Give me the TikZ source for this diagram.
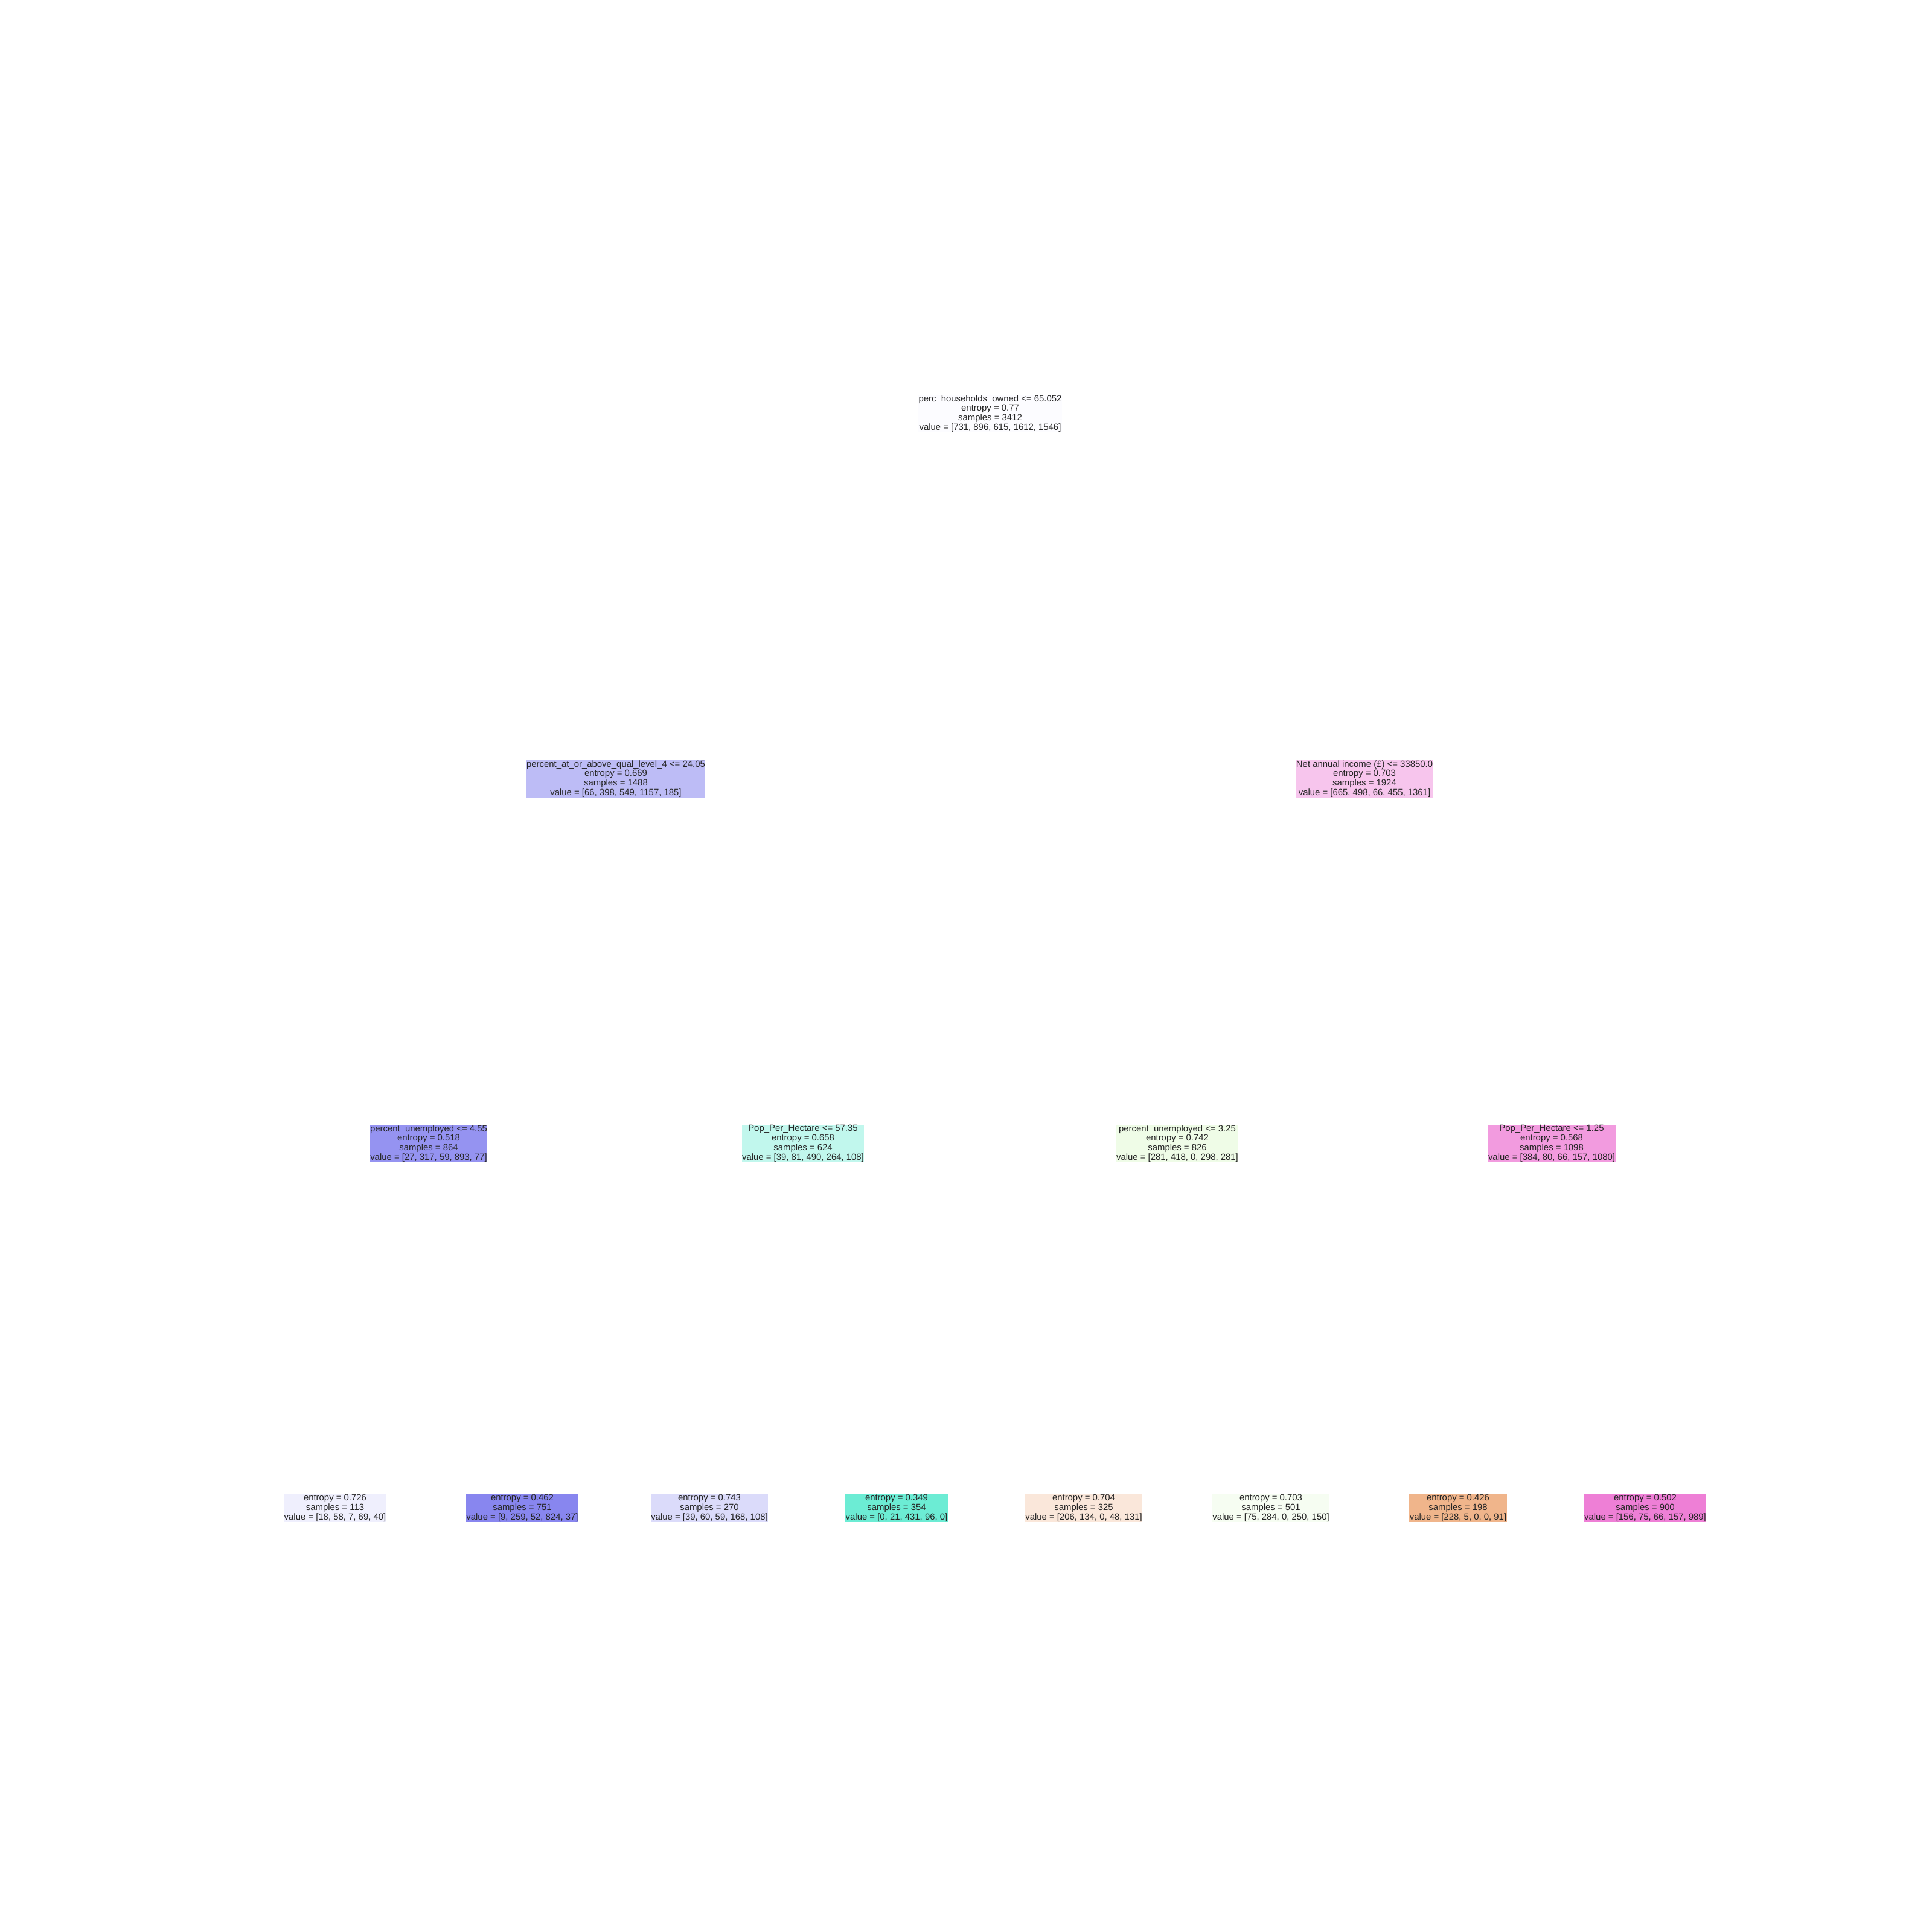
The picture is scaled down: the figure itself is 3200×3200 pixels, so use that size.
\documentclass[tikz,border=0pt]{standalone}
\usepackage{fontspec}
\setmainfont{Liberation Sans}
\definecolor{txt}{RGB}{38,38,38}
\definecolor{cR}{RGB}{252,252,255}
\definecolor{cA}{RGB}{189,188,246}
\definecolor{cB}{RGB}{247,197,237}
\definecolor{cAA}{RGB}{149,147,241}
\definecolor{cAB}{RGB}{193,247,237}
\definecolor{cBA}{RGB}{239,252,231}
\definecolor{cBB}{RGB}{242,155,223}
\definecolor{cL1}{RGB}{239,239,253}
\definecolor{cL2}{RGB}{136,134,239}
\definecolor{cL3}{RGB}{219,219,250}
\definecolor{cL4}{RGB}{108,236,212}
\definecolor{cL5}{RGB}{250,231,218}
\definecolor{cL6}{RGB}{246,253,242}
\definecolor{cL7}{RGB}{240,181,139}
\definecolor{cL8}{RGB}{238,127,214}
\tikzset{
  treenode/.style={align=center, text=txt, inner xsep=0.5pt, inner ysep=0.7pt,
    font=\fontsize{14.9}{15.8}\selectfont}
}
\begin{document}
\begin{tikzpicture}[x=1pt,y=-1pt]
\fill[white] (0,0) rectangle (3200,3200);
\useasboundingbox (0,0) rectangle (3200,3200);
\node[treenode, fill=cR] (root) at (1640,685) {perc\_households\_owned <= 65.052\\entropy = 0.77\\samples = 3412\\value = [731, 896, 615, 1612, 1546]};
\node[treenode, fill=cA] (nA) at (1020,1290) {percent\_at\_or\_above\_qual\_level\_4 <= 24.05\\entropy = 0.669\\samples = 1488\\value = [66, 398, 549, 1157, 185]};
\node[treenode, fill=cB] (nB) at (2260,1290) {Net annual income (£) <= 33850.0\\entropy = 0.703\\samples = 1924\\value = [665, 498, 66, 455, 1361]};
\node[treenode, fill=cAA] (nAA) at (710,1894) {percent\_unemployed <= 4.55\\entropy = 0.518\\samples = 864\\value = [27, 317, 59, 893, 77]};
\node[treenode, fill=cAB] (nAB) at (1330,1894) {Pop\_Per\_Hectare <= 57.35\\entropy = 0.658\\samples = 624\\value = [39, 81, 490, 264, 108]};
\node[treenode, fill=cBA] (nBA) at (1950,1894) {percent\_unemployed <= 3.25\\entropy = 0.742\\samples = 826\\value = [281, 418, 0, 298, 281]};
\node[treenode, fill=cBB] (nBB) at (2570,1894) {Pop\_Per\_Hectare <= 1.25\\entropy = 0.568\\samples = 1098\\value = [384, 80, 66, 157, 1080]};
\node[treenode, fill=cL1] (l1) at (555,2498) {entropy = 0.726\\samples = 113\\value = [18, 58, 7, 69, 40]};
\node[treenode, fill=cL2] (l2) at (865,2498) {entropy = 0.462\\samples = 751\\value = [9, 259, 52, 824, 37]};
\node[treenode, fill=cL3] (l3) at (1175,2498) {entropy = 0.743\\samples = 270\\value = [39, 60, 59, 168, 108]};
\node[treenode, fill=cL4] (l4) at (1485,2498) {entropy = 0.349\\samples = 354\\value = [0, 21, 431, 96, 0]};
\node[treenode, fill=cL5] (l5) at (1795,2498) {entropy = 0.704\\samples = 325\\value = [206, 134, 0, 48, 131]};
\node[treenode, fill=cL6] (l6) at (2105,2498) {entropy = 0.703\\samples = 501\\value = [75, 284, 0, 250, 150]};
\node[treenode, fill=cL7] (l7) at (2415,2498) {entropy = 0.426\\samples = 198\\value = [228, 5, 0, 0, 91]};
\node[treenode, fill=cL8] (l8) at (2725,2498) {entropy = 0.502\\samples = 900\\value = [156, 75, 66, 157, 989]};
\end{tikzpicture}
\end{document}
